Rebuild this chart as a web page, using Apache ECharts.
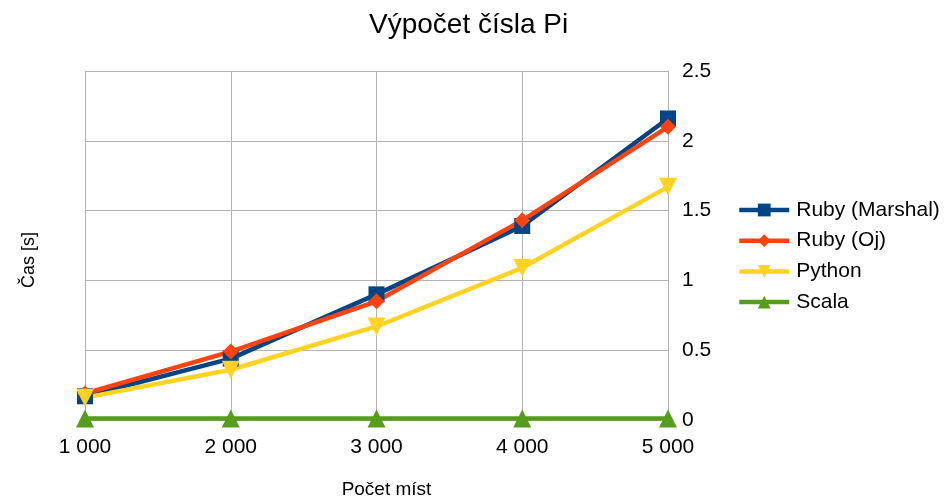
<!DOCTYPE html>
<html><head><meta charset="utf-8">
<script src="https://cdn.jsdelivr.net/npm/echarts@6/dist/echarts.min.js"></script>
<style>html,body{margin:0;padding:0;background:#fff}#c{width:947px;height:501px}</style>
</head><body><div id="c"></div>
<script>
const categories = ['1 000', '2 000', '3 000', '4 000', '5 000'];
const rubyMarshal = [0.17, 0.44, 0.90, 1.39, 2.16];
const rubyOj = [0.19, 0.49, 0.85, 1.43, 2.10];
const python = [0.16, 0.36, 0.67, 1.09, 1.67];
const scala = [0.01, 0.01, 0.01, 0.01, 0.01];
const yTicks = [0, 0.5, 1, 1.5, 2, 2.5];

const font = 'Liberation Sans, Arial, sans-serif';
const chart = echarts.init(document.getElementById('c'));
function s(name, data, color, symbol, size, rot) {
  return {
    name, type: 'line', data, symbol, symbolSize: size, symbolRotate: rot || 0,
    lineStyle: { color, width: 4.5 }, itemStyle: { color },
    emphasis: { disabled: true }, animation: false
  };
}
chart.setOption({
  animation: false,
  textStyle: { fontFamily: font },
  title: { text: 'Výpočet čísla Pi', left: 369, top: 11, padding: 0,
    textStyle: { fontSize: 28, fontWeight: 'normal', color: '#000', fontFamily: font } },
  grid: { left: 85, right: 279, top: 71, bottom: 81, containLabel: false, outerBoundsMode: 'none' },
  legend: {
    orient: 'vertical', left: 737, top: 199.5, padding: 0, itemGap: 9.7, itemWidth: 50, itemHeight: 16,
    lineStyle: { width: 4.5 },
    textStyle: { fontSize: 21, color: '#000', fontFamily: font, padding: [0, 0, 0, 2] },
    data: ['Ruby (Marshal)', 'Ruby (Oj)', 'Python', 'Scala']
  },
  xAxis: {
    type: 'category', data: categories, boundaryGap: false,
    name: 'Počet míst', nameLocation: 'middle', nameGap: 60,
    nameTextStyle: { fontSize: 19, color: '#000', padding: [0, 0, 0, 20] },
    axisLine: { show: false }, axisTick: { show: false },
    axisLabel: { fontSize: 21, color: '#000', margin: 17 },
    splitLine: { show: true, lineStyle: { color: '#b3b3b3', width: 1 } }
  },
  yAxis: {
    type: 'value', position: 'right', min: 0, max: 2.5, interval: 0.5,
    axisLine: { show: true, lineStyle: { color: '#b3b3b3' } }, axisTick: { show: false },
    axisLabel: { fontSize: 21, color: '#000', margin: 14,
      formatter: v => yTicks.includes(v) ? String(v) : '' },
    splitLine: { show: true, lineStyle: { color: '#b3b3b3', width: 1 } }
  },
  graphic: [{
    type: 'text', x: 29, y: 260, rotation: Math.PI / 2,
    style: { text: 'Čas [s]', fill: '#000', font: '18px ' + font, align: 'center', verticalAlign: 'middle' }
  }],
  series: [
    s('Ruby (Marshal)', rubyMarshal, '#004586', 'rect', 16),
    s('Ruby (Oj)', rubyOj, '#ff420e', 'diamond', 16),
    s('Python', python, '#ffd320', 'triangle', 18, 180),
    s('Scala', scala, '#579d1c', 'triangle', 18)
  ]
});
</script></body></html>
